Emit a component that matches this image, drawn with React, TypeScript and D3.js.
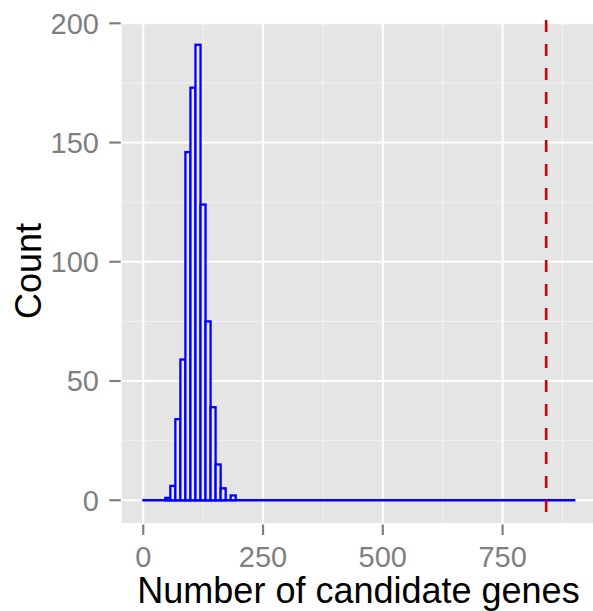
import React from "react";
import * as d3 from "d3";

// Histogram data (nonzero region), bins of equal width starting at histStart
const histStart = 46;
const binWidth = 10.5;
const counts = [1, 6, 34, 59, 146, 173, 191, 124, 75, 39, 15, 5, 0, 2];
// full extent of the (mostly zero) histogram
const histRange = [-2, 902];
const observedValue = 841;

const xTicks = [0, 250, 500, 750];
const xMinor = [125, 375, 625, 875];
const yTicks = [0, 50, 100, 150, 200];
const yMinor = [25, 75, 125, 175];

const xTitle = "Number of candidate genes";
const yTitle = "Count";

const W = 593;
const H = 611;

export default function App() {
  const panel = { left: 121.7, right: 596, top: 22, bottom: 523 };
  const x = d3.scaleLinear().domain([-45, 945]).range([panel.left, panel.right]);
  const y = d3.scaleLinear().domain([-9.55, 200.55]).range([panel.bottom, panel.top]);

  const bins = counts.map((c, i) => ({
    x0: histStart + i * binWidth,
    x1: histStart + (i + 1) * binWidth,
    c,
  }));

  const tickColor = "#7f7f7f";
  const font = "'Liberation Sans', Arial, Helvetica, sans-serif";

  return (
    <svg
      width={W}
      height={H}
      style={{ position: "absolute", left: 0, top: 0, background: "#fff" }}
      fontFamily={font}
    >
      <rect
        x={panel.left}
        y={panel.top}
        width={panel.right - panel.left}
        height={panel.bottom - panel.top}
        fill="#e5e5e5"
      />
      {/* minor grid */}
      {xMinor.map((v) => (
        <line key={"xm" + v} x1={x(v)} x2={x(v)} y1={panel.top} y2={panel.bottom} stroke="#f2f2f2" strokeWidth={1} />
      ))}
      {yMinor.map((v) => (
        <line key={"ym" + v} y1={y(v)} y2={y(v)} x1={panel.left} x2={panel.right} stroke="#f2f2f2" strokeWidth={1} />
      ))}
      {/* major grid */}
      {xTicks.map((v) => (
        <line key={"xg" + v} x1={x(v)} x2={x(v)} y1={panel.top} y2={panel.bottom} stroke="#ffffff" strokeWidth={2} />
      ))}
      {yTicks.map((v) => (
        <line key={"yg" + v} y1={y(v)} y2={y(v)} x1={panel.left} x2={panel.right} stroke="#ffffff" strokeWidth={2} />
      ))}

      {/* zero baseline of histogram */}
      <line
        x1={x(histRange[0])}
        x2={x(histRange[1])}
        y1={y(0)}
        y2={y(0)}
        stroke="#0000ff"
        strokeWidth={2.3}
      />
      {bins.map((b, i) => (
        <rect
          key={i}
          x={x(b.x0)}
          width={x(b.x1) - x(b.x0)}
          y={y(b.c)}
          height={y(0) - y(b.c)}
          fill="#eaeafa"
          stroke="#0000ff"
          strokeWidth={2.3}
        />
      ))}

      {/* observed value */}
      <line
        x1={x(observedValue)}
        x2={x(observedValue)}
        y1={panel.top - 2}
        y2={panel.bottom}
        stroke="#d40000"
        strokeWidth={2.6}
        strokeDasharray="12,12"
      />

      {/* y axis */}
      {yTicks.map((v) => (
        <g key={"yt" + v}>
          <line x1={109.3} x2={120.7} y1={y(v)} y2={y(v)} stroke={tickColor} strokeWidth={2.2} />
          <text x={99} y={y(v) + 10.4} textAnchor="end" fontSize={29} fill={tickColor}>
            {v}
          </text>
        </g>
      ))}
      {/* x axis */}
      {xTicks.map((v) => (
        <g key={"xt" + v}>
          <line x1={x(v)} x2={x(v)} y1={524.5} y2={535} stroke={tickColor} strokeWidth={2.2} />
          <text x={x(v)} y={566.7} textAnchor="middle" fontSize={29} fill={tickColor}>
            {v}
          </text>
        </g>
      ))}

      <text x={358.5} y={603} textAnchor="middle" fontSize={36} fill="#000">
        {xTitle}
      </text>
      <text transform="translate(41,271) rotate(-90)" textAnchor="middle" fontSize={36} fill="#000">
        {yTitle}
      </text>
    </svg>
  );
}
